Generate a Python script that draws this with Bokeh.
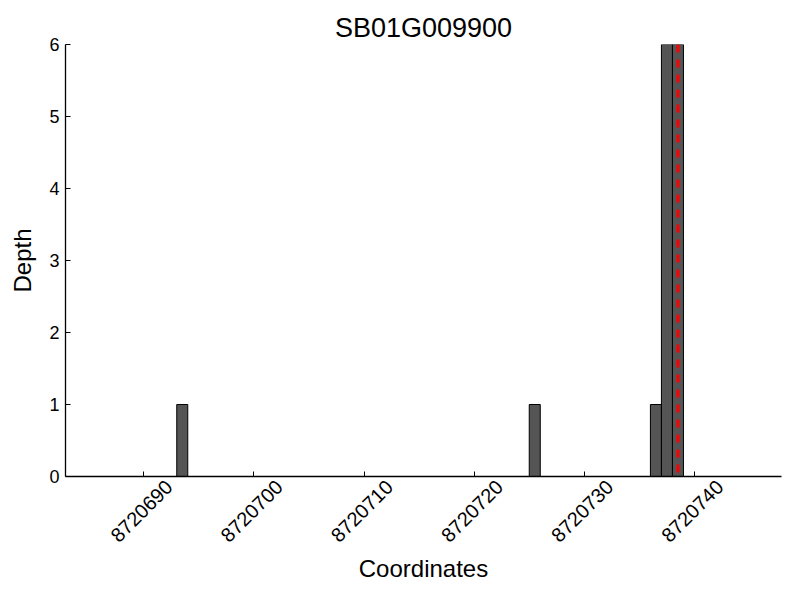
import math
from bokeh.plotting import figure
from bokeh.models import Span, FixedTicker, Range1d, ColumnDataSource, LinearAxis
from bokeh.embed import file_html
from bokeh.resources import INLINE

# ---- data ----
title_text = "SB01G009900"
bar_positions = [8720693, 8720725, 8720736, 8720737, 8720738]  # left edges
bar_depths = [1, 1, 1, 6, 6]
marker_position = 8720738.5
x_ticks = [8720690, 8720700, 8720710, 8720720, 8720730, 8720740]
x_tick_labels = ["8720690", "8720700", "8720710", "8720720", "8720730", "8720740"]
y_ticks = [0, 1, 2, 3, 4, 5, 6]
x_start, x_end = 8720682.9, 8720747.9
y_start, y_end = 0, 6

FONT = "Liberation Sans"
LABEL_SHIFT = 2.3  # x units: centres the rotated labels on their ticks

p = figure(width=800, height=600, output_backend="svg", toolbar_location=None,
           x_range=Range1d(x_start, x_end), y_range=Range1d(y_start, y_end),
           min_border_left=65, min_border_right=19, min_border_top=44,
           min_border_bottom=124, title=title_text)
p.outline_line_color = None
p.grid.visible = False
p.background_fill_color = "white"
p.border_fill_color = "white"

p.title.align = "center"
p.title.text_font = FONT
p.title.text_font_size = "27px"
p.title.text_font_style = "normal"
p.title.text_color = "black"
p.title.standoff = 4

src = ColumnDataSource(dict(left=bar_positions,
                            right=[b + 1 for b in bar_positions],
                            top=bar_depths,
                            bottom=[0] * len(bar_depths)))
p.quad(left="left", right="right", top="top", bottom="bottom", source=src,
       fill_color="#555555", line_color="black", line_width=1)

p.add_layout(Span(location=marker_position, dimension="height",
                  line_color="red", line_dash="8 7", line_width=3))

# axes
p.xaxis.ticker = FixedTicker(ticks=x_ticks)
p.yaxis.ticker = FixedTicker(ticks=y_ticks)
for ax in (p.xaxis[0], p.yaxis[0]):
    ax.major_tick_in = 5
    ax.major_tick_out = 0
    ax.minor_tick_line_color = None
    ax.axis_line_color = "black"
    ax.axis_line_width = 1.3
    ax.major_tick_line_color = "black"
    ax.axis_label_text_font = FONT
    ax.axis_label_text_font_size = "24px"
    ax.axis_label_text_font_style = "normal"
    ax.axis_label_text_color = "black"
    ax.major_label_text_font = FONT
    ax.major_label_text_color = "black"

p.yaxis.axis_label = "Depth"
p.yaxis.major_label_text_font_size = "18px"
p.yaxis.major_label_standoff = 6
p.yaxis.axis_label_standoff = 10

# main x axis: line and ticks only
p.xaxis.major_label_text_font_size = "0px"
p.xaxis.major_label_overrides = {t: "" for t in x_ticks}
p.xaxis.major_label_standoff = 0

# label axis: same ticks, labels centred on them like the reference
p.extra_x_ranges = {"lab": Range1d(x_start - LABEL_SHIFT, x_end - LABEL_SHIFT)}
lab_axis = LinearAxis(x_range_name="lab", ticker=FixedTicker(ticks=x_ticks),
                      major_label_overrides=dict(zip(x_ticks, x_tick_labels)),
                      major_label_orientation=math.pi / 4,
                      major_label_text_font=FONT, major_label_text_font_size="20px",
                      major_label_text_color="black", major_label_standoff=1,
                      axis_line_color=None, major_tick_line_color=None,
                      minor_tick_line_color=None,
                      axis_label="Coordinates", axis_label_text_font=FONT,
                      axis_label_text_font_size="24px",
                      axis_label_text_font_style="normal",
                      axis_label_text_color="black", axis_label_standoff=4)
p.add_layout(lab_axis, "below")

open("out.html", "w").write(file_html(p, INLINE))
